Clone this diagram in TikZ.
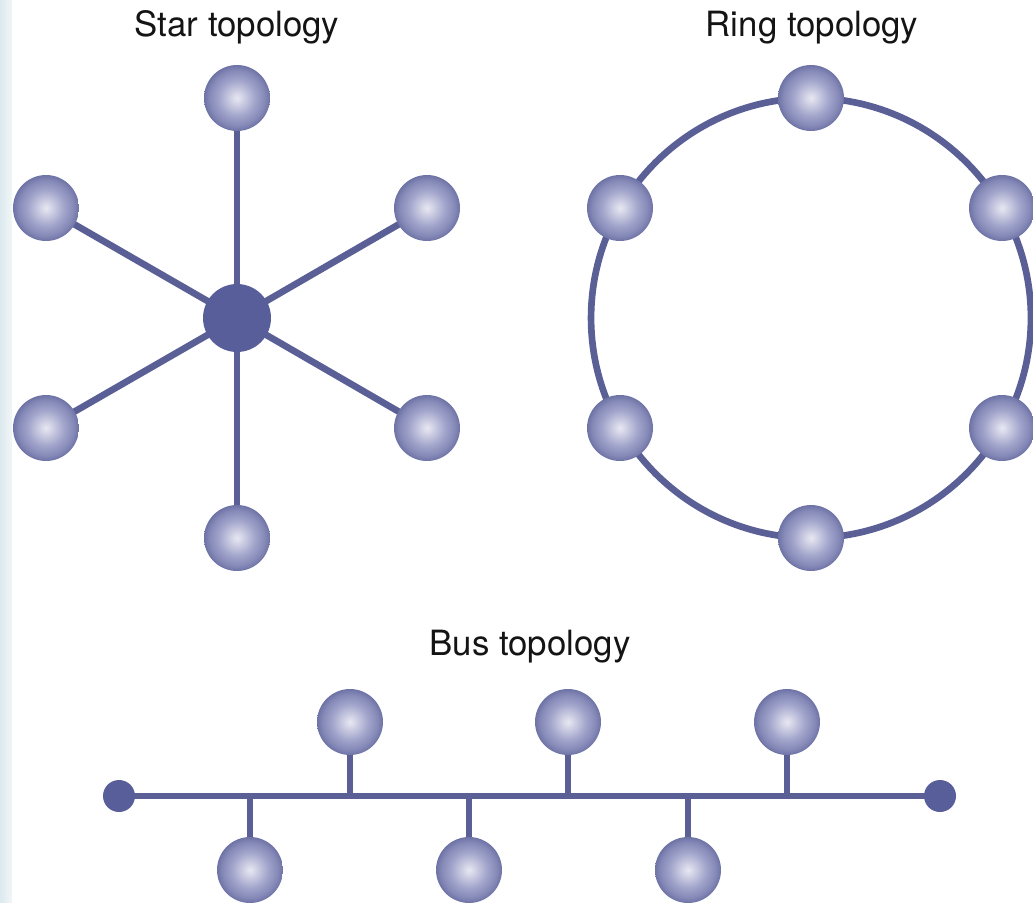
\documentclass[tikz,border=0pt]{standalone}
\usepackage{fontspec}
\setmainfont{TeX Gyre Heros}
\definecolor{linkc}{HTML}{5A6096}
\definecolor{hubc}{HTML}{585E9A}
\definecolor{ballhi}{HTML}{E8E8F2}
\definecolor{ballmid}{HTML}{A0A3CA}
\definecolor{ballout}{HTML}{8589B7}
\definecolor{balledge}{HTML}{6E73A6}
\definecolor{stripc}{HTML}{DCE9EE}
\pgfdeclareradialshading{sphere}{\pgfpoint{0bp}{0bp}}{color(0bp)=(ballhi); color(5bp)=(ballhi!65!ballmid); color(14bp)=(ballmid); color(21bp)=(ballout); color(25bp)=(balledge); color(50bp)=(balledge)}
\pgfdeclarelayer{background}
\pgfsetlayers{background,main}
\tikzset{
  ball/.style={circle, minimum size=1.32cm, inner sep=0pt, shading=sphere},
  hub/.style={circle, minimum size=1.36cm, inner sep=0pt, fill=hubc},
  enddot/.style={circle, minimum size=0.64cm, inner sep=0pt, fill=hubc},
  link/.style={draw=linkc, line width=3.8pt},
  title/.style={anchor=base, font=\fontsize{19.8}{24}\selectfont, text=black!92}
}
\begin{document}
\begin{tikzpicture}[x=0.02cm, y=-0.02cm]
\useasboundingbox (0,0) rectangle (1033,902);
\fill[left color=stripc, right color=stripc!40!white] (0,0) rectangle (12,902);
% titles
\node[title] (tstar) at (237,37) {Star topology};
\node[title] (tring) at (812,37) {Ring topology};
\node[title] (tbus) at (530,655) {Bus topology};
% star
\node[hub] (hub) at (237,318) {};
\node[ball] (s1) at (237,98) {};
\node[ball] (s2) at (427,208) {};
\node[ball] (s3) at (427,428) {};
\node[ball] (s4) at (237,538) {};
\node[ball] (s5) at (46,428) {};
\node[ball] (s6) at (46,208) {};
\begin{pgfonlayer}{background}
\foreach \n in {s1,s2,s3,s4,s5,s6} \draw[link] (hub.center) -- (\n.center);
\end{pgfonlayer}
% ring
\coordinate (rc) at (811,318);
\node[ball] (r1) at (811,98) {};
\node[ball] (r2) at (1002,208) {};
\node[ball] (r3) at (1002,428) {};
\node[ball] (r4) at (811,538) {};
\node[ball] (r5) at (620,428) {};
\node[ball] (r6) at (620,208) {};
\begin{pgfonlayer}{background}
\draw[link] (rc) circle[radius=4.4cm];
\end{pgfonlayer}
% bus
\node[enddot] (bl) at (119,796) {};
\node[enddot] (br) at (940,796) {};
\node[ball] (u1) at (350,722) {};
\node[ball] (u2) at (568,722) {};
\node[ball] (u3) at (787,722) {};
\node[ball] (d1) at (250,870) {};
\node[ball] (d2) at (469,870) {};
\node[ball] (d3) at (688,870) {};
\begin{pgfonlayer}{background}
\draw[link] (bl.center) -- (br.center);
\foreach \n in {u1,u2,u3,d1,d2,d3} \draw[link] (\n.center) -- (\n.center |- bl.center);
\end{pgfonlayer}
\end{tikzpicture}
\end{document}
